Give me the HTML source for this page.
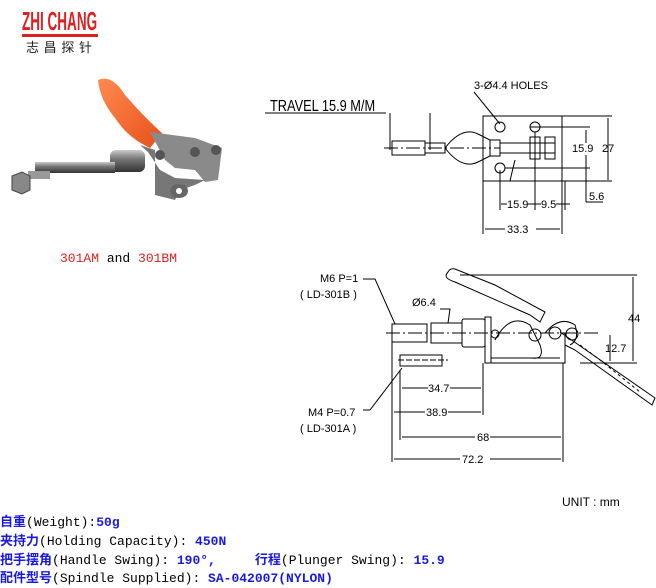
<!DOCTYPE html>
<html><head><meta charset="utf-8"><style>
body{margin:0;background:#fff;width:656px;height:586px;overflow:hidden;position:relative;font-family:"Liberation Sans",sans-serif}
.spec{position:absolute;left:0;font-family:"Liberation Mono","Noto Sans CJK SC",monospace;font-size:13px;color:#000;white-space:pre;line-height:18px}
.spec b{color:#1a1adf}
</style></head><body>
<svg width="656" height="586" style="position:absolute;left:0;top:0" font-family="Liberation Sans, sans-serif">
<defs>
<linearGradient id="rod" x1="0" y1="0" x2="0" y2="1"><stop offset="0" stop-color="#ccc"/><stop offset=".4" stop-color="#777"/><stop offset="1" stop-color="#333"/></linearGradient>
<linearGradient id="org" x1="0" y1="0" x2="1" y2="1"><stop offset="0" stop-color="#ff8a50"/><stop offset="1" stop-color="#e8501a"/></linearGradient>
</defs>
<!-- logo -->
<g transform="translate(22,30) scale(0.52,1)"><text x="0" y="0" font-size="26" font-weight="bold" fill="#e02020">ZHI CHANG</text></g>
<rect x="22" y="34" width="76" height="3" fill="#e02020"/>
<text x="26" y="52" font-size="13" font-family="Noto Sans CJK SC, sans-serif" fill="#222" textLength="66">志昌探针</text>
<!-- photo -->
<path d="M98 80 Q112 74 125 95 Q145 118 162 133 L150 148 Q128 138 115 118 Q100 100 98 80Z" fill="url(#org)"/>
<path d="M150 132 L195 138 L222 148 L218 180 L205 182 L195 170 L175 168 L165 160 Z" fill="#8a8a8a"/>
<path d="M140 145 L155 150 L155 195 L175 200 L180 190 L195 185 L205 180 L175 178 L160 170 L148 152Z" fill="#777"/>
<ellipse cx="179" cy="191" rx="9" ry="7" fill="#666"/><circle cx="179" cy="191" r="3" fill="#fff"/>
<rect x="110" y="150" width="35" height="22" rx="6" fill="url(#rod)"/>
<rect x="35" y="162" width="80" height="11" fill="url(#rod)"/>
<rect x="28" y="171" width="22" height="8" fill="#999"/>
<polygon points="12,176 22,172 30,176 30,190 22,194 12,190" fill="#888" stroke="#444"/>
<circle cx="160" cy="155" r="5" fill="#555"/><circle cx="195" cy="152" r="5" fill="#555"/><circle cx="216" cy="150" r="5" fill="#555"/>
<!-- top view drawing -->
<g stroke="#000" stroke-width="1" fill="none">
<line x1="265" y1="113" x2="386" y2="113"/>
<line x1="390" y1="113" x2="390" y2="150"/><line x1="430" y1="113" x2="430" y2="150"/>
<line x1="384" y1="148" x2="500" y2="148" stroke-dasharray="14,3,2,3"/>
<rect x="392" y="141" width="33" height="14"/>
<rect x="425" y="143" width="20" height="10"/>
<path d="M445 148 Q462 126 478 134 L490 140 M445 148 Q462 170 478 162 L490 156"/>
<rect x="483" y="116" width="79" height="65"/>
<rect x="490" y="140" width="10" height="16"/>
<line x1="500" y1="143" x2="555" y2="143"/><line x1="500" y1="153" x2="555" y2="153"/>
<rect x="530" y="137" width="10" height="22"/><rect x="545" y="137" width="10" height="22"/>
<circle cx="500" cy="127" r="5"/><circle cx="535" cy="127" r="5"/><circle cx="500" cy="168" r="5"/>
<line x1="530" y1="127" x2="590" y2="127"/><line x1="505" y1="168" x2="590" y2="168"/>
<path d="M515 160 Q512 172 510 181"/>
<line x1="562" y1="116" x2="612" y2="116"/><line x1="562" y1="181" x2="612" y2="181"/>
<line x1="608" y1="118" x2="608" y2="180"/>
<line x1="586" y1="130" x2="586" y2="143"/><line x1="586" y1="155" x2="586" y2="202"/><line x1="586" y1="202" x2="603" y2="202"/>
<line x1="500" y1="170" x2="500" y2="210"/><line x1="535" y1="132" x2="535" y2="210"/><line x1="565" y1="181" x2="565" y2="210"/>
<line x1="501" y1="204" x2="507" y2="204"/><line x1="528" y1="204" x2="541" y2="204"/><line x1="556" y1="204" x2="570" y2="204"/>
<line x1="483" y1="181" x2="483" y2="234"/><line x1="562" y1="181" x2="562" y2="234"/>
<line x1="485" y1="229" x2="505" y2="229"/><line x1="536" y1="229" x2="560" y2="229"/>
<line x1="474" y1="92" x2="500" y2="124"/>
</g>
<g font-size="11" fill="#000">
<g transform="translate(270,111) scale(0.8,1)"><text x="0" y="0" font-size="16">TRAVEL 15.9 M/M</text></g>
<text x="474" y="89">3-Ø4.4 HOLES</text>
<text x="572" y="152">15.9</text><text x="602" y="152">27</text>
<text x="589" y="200">5.6</text>
<text x="507" y="208">15.9</text><text x="541" y="208">9.5</text>
<text x="507" y="233">33.3</text>
</g>
<!-- side view -->
<g stroke="#000" stroke-width="1" fill="none">
<line x1="386" y1="333" x2="600" y2="333" stroke-dasharray="14,3,2,3"/>
<rect x="392" y="324" width="35" height="18"/>
<rect x="431" y="323" width="31" height="20"/>
<rect x="462" y="319" width="23" height="28" rx="2"/>
<rect x="485" y="317" width="6" height="46"/>
<path d="M485 363 L565 363 L565 333 M491 358 L560 358"/>
<path d="M495 340 Q510 312 530 325 L540 345 Q545 360 532 358"/>
<circle cx="495" cy="334" r="4"/><circle cx="535" cy="335" r="6"/><circle cx="555" cy="333" r="6"/><circle cx="572" cy="334" r="6"/>
<path d="M545 333 Q560 315 575 325 Q580 340 570 345"/>
<path d="M448 272 Q442 278 455 282 L530 315 L540 322 L545 312 L495 285 L455 269 Q450 268 448 272Z"/>
<path d="M560 332 L655 398 L652 405 L575 350 L565 345"/>
<path d="M580 345 L600 360 L640 392" stroke-dasharray="3,3"/>
<line x1="460" y1="275" x2="637" y2="275"/><line x1="580" y1="363" x2="637" y2="363"/>
<line x1="633" y1="277" x2="633" y2="361"/>
<line x1="610" y1="335" x2="610" y2="361"/>
<rect x="400" y="355" width="42" height="11"/>
<line x1="398" y1="360" x2="448" y2="360" stroke-dasharray="6,2"/>
<line x1="392" y1="342" x2="392" y2="462"/><line x1="400" y1="370" x2="400" y2="440"/>
<line x1="483" y1="363" x2="483" y2="415"/><line x1="563" y1="363" x2="563" y2="462"/>
<line x1="402" y1="388" x2="428" y2="388"/><line x1="450" y1="388" x2="481" y2="388"/>
<line x1="394" y1="412" x2="425" y2="412"/><line x1="448" y1="412" x2="481" y2="412"/>
<line x1="402" y1="437" x2="475" y2="437"/><line x1="490" y1="437" x2="561" y2="437"/>
<line x1="394" y1="459" x2="460" y2="459"/><line x1="490" y1="459" x2="561" y2="459"/>
<path d="M363 279 L375 279 L395 324"/>
<path d="M440 309 L450 309 L448 323"/>
<path d="M363 410 L370 410 L402 368"/>
</g>
<g font-size="11" fill="#000">
<text x="320" y="282">M6 P=1</text><text x="300" y="298">(  LD-301B  )</text>
<text x="412" y="306">Ø6.4</text>
<text x="605" y="352">12.7</text><text x="628" y="322">44</text>
<text x="428" y="392">34.7</text><text x="426" y="416">38.9</text>
<text x="477" y="441">68</text><text x="462" y="463">72.2</text>
<text x="308" y="416">M4 P=0.7</text><text x="300" y="432">(  LD-301A  )</text>
<text x="562" y="506" font-size="12">UNIT : mm</text>
</g>
<text x="60" y="262" font-size="13" font-family="Liberation Mono, monospace" fill="#000"><tspan fill="#e02020">301AM</tspan> and <tspan fill="#e02020">301BM</tspan></text>
</svg>
<div class="spec" style="top:514px"><b>自重</b>(Weight):<b>50g</b></div>
<div class="spec" style="top:533px"><b>夹持力</b>(Holding Capacity): <b>450N</b></div>
<div class="spec" style="top:552px"><b>把手摆角</b>(Handle Swing): <b>190°,</b>     <b>行程</b>(Plunger Swing): <b>15.9</b></div>
<div class="spec" style="top:570px"><b>配件型号</b>(Spindle Supplied): <b>SA-042007(NYLON)</b></div>
</body></html>
